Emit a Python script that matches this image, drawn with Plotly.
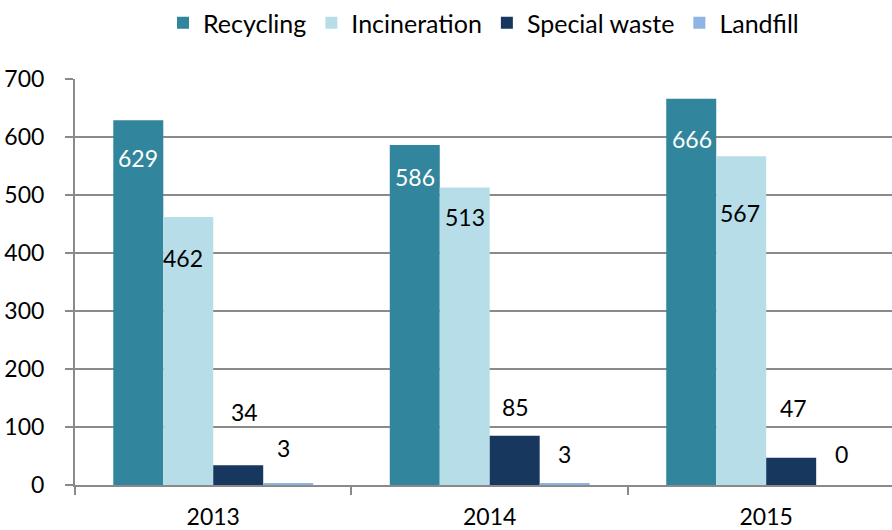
import plotly.graph_objects as go

# Waste volumes per year and treatment type
years = ["2013", "2014", "2015"]
recycling = [629, 586, 666]
incineration = [462, 513, 567]
special_waste = [34, 85, 47]
landfill = [3, 3, 0]

y_ticks = [0, 100, 200, 300, 400, 500, 600, 700]

series = [
    ("Recycling", recycling, "#31859C", "white"),
    ("Incineration", incineration, "#B7DEE8", "black"),
    ("Special waste", special_waste, "#17375E", "black"),
    ("Landfill", landfill, "#8EB4E3", "black"),
]

# Pixel offsets (dx, dy) of each value label from its bar top, per series and year
label_shift = {
    "Recycling": [(0, -38), (0, -32), (1, -40)],
    "Incineration": [(-5, -41), (0, -30), (-1, -57)],
    "Special waste": [(6, 53), (1, 29), (2, 50)],
    "Landfill": [(-5, 35), (0, 29), (0, 31)],
}

FONT = "Lato"
GRID = "#8a8a8a"
BARGAP = 0.277

fig = go.Figure()
for name, vals, color, _ in series:
    fig.add_trace(go.Bar(
        name=name, x=years, y=vals,
        marker=dict(color=color, line=dict(width=0)),
    ))

# Value labels placed relative to each bar's top
n = len(series)
group_w = 1 - BARGAP
bar_w = group_w / n
annotations = []
for i, (name, vals, _, txt_color) in enumerate(series):
    offset = -group_w / 2 + bar_w * (i + 0.5)
    for j, v in enumerate(vals):
        dx, dy = label_shift[name][j]
        annotations.append(dict(
            x=j + offset, y=v, xref="x", yref="y",
            text=str(v), showarrow=False,
            xanchor="center", yanchor="middle",
            xshift=dx, yshift=dy,
            font=dict(family=FONT, size=23, color=txt_color),
        ))

fig.update_layout(
    width=892, height=530,
    margin=dict(l=75, r=0, t=79, b=45),
    paper_bgcolor="white", plot_bgcolor="white",
    barmode="group", bargap=BARGAP, bargroupgap=0,
    font=dict(family=FONT, size=23, color="black"),
    showlegend=True,
    legend=dict(
        orientation="h", x=0.5, xanchor="center", xref="paper",
        y=1.0, yref="container", yanchor="top",
        font=dict(family=FONT, size=25, color="black"),
        itemwidth=30, traceorder="normal",
    ),
    annotations=annotations,
)

fig.update_xaxes(
    type="category", range=[-0.5, 2.455],
    showgrid=False, showline=True, linecolor=GRID, linewidth=2,
    ticks="outside", tickson="boundaries", ticklen=8, tickwidth=2, tickcolor=GRID,
    tickfont=dict(family=FONT, size=23, color="black"),
    ticklabelstandoff=10,
)
fig.update_yaxes(
    range=[0, 700], tickvals=y_ticks,
    showgrid=True, gridcolor=GRID, gridwidth=1.5,
    showline=True, linecolor=GRID, linewidth=2,
    ticks="outside", ticklen=8, tickwidth=2, tickcolor=GRID,
    tickfont=dict(family=FONT, size=23, color="black"),
    ticklabelstandoff=16, zeroline=False,
)

fig.write_html("out.html")
